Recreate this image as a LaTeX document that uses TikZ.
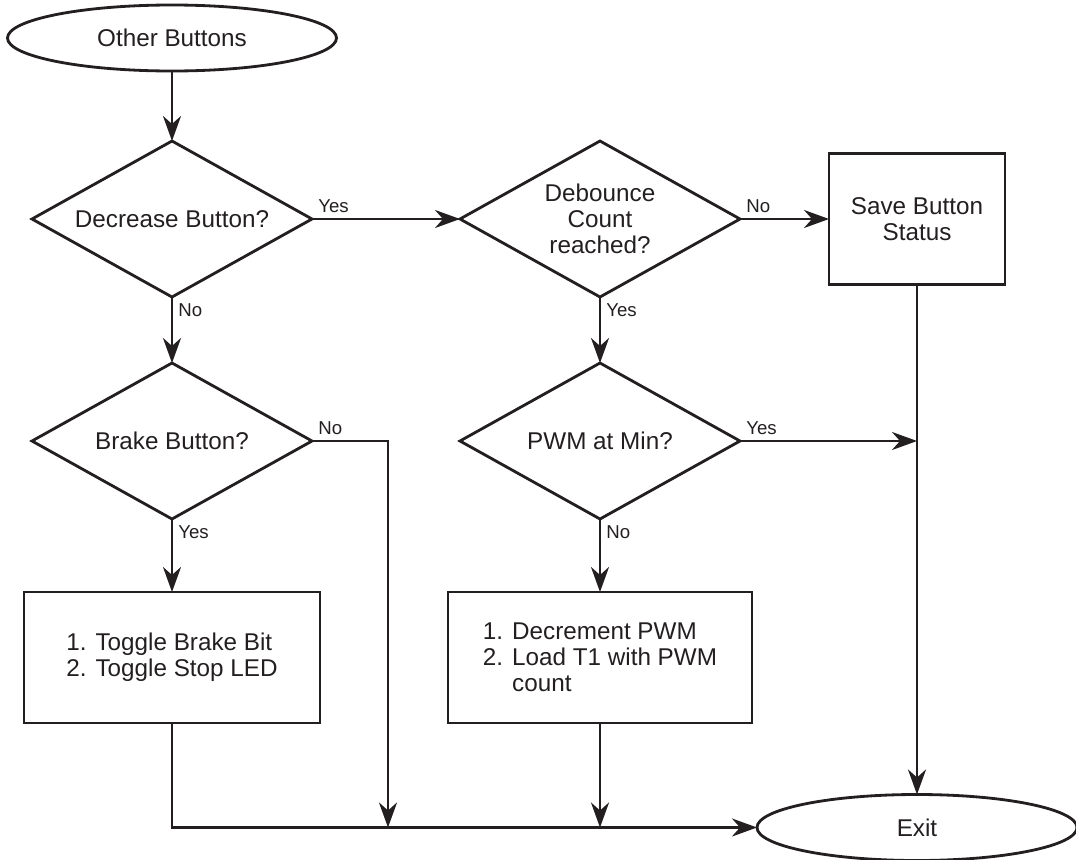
\documentclass[tikz,border=0pt]{standalone}
\usepackage{fontspec}
\setmainfont{Liberation Sans}
\usetikzlibrary{shapes.geometric,arrows.meta,positioning}
\definecolor{ink}{HTML}{231F20}

\begin{document}
\begin{tikzpicture}[
  line width=1.6pt, draw=ink, text=ink,
  txt/.style={font=\fontsize{13.8}{14.8}\selectfont},
  term/.style={draw, ellipse, txt, minimum width=6.58cm, minimum height=1.32cm,
               inner sep=0pt, outer sep=0pt},
  decision/.style={draw, diamond, txt, aspect=1.8, minimum width=5.6cm, minimum height=3.12cm,
                   inner sep=0pt, outer sep=0pt, align=center},
  box/.style={draw, txt, minimum height=2.62cm, inner sep=0pt, outer sep=0pt},
  lbl/.style={font=\fontsize{10.6}{12}\selectfont, inner sep=0.1cm},
  arr/.style={-{Stealth[length=5mm, width=3.6mm, inset=1.6mm]}}
]
\useasboundingbox (0,0) rectangle (21.52,-17.2);

\node[term] (start) at (3.44,-0.76) {Other Buttons};
\node[decision, below=1.4cm of start] (decbtn) {Decrease Button?};
\node[decision, below=1.32cm of decbtn] (brake) {Brake Button?};
\node[box, below=1.46cm of brake, minimum width=5.92cm, align=left] (toggle)
  {1. Toggle Brake Bit\\2. Toggle Stop LED};
\node[decision, right=2.96cm of decbtn] (debounce) {Debounce\\Count\\reached?};
\node[decision, below=1.32cm of debounce] (pwmmin) {PWM at Min?};
\node[box, below=1.46cm of pwmmin, minimum width=6.08cm, align=left] (decpwm)
  {1. Decrement PWM\\2. Load T1 with PWM\\\phantom{2. }count};
\node[box, right=1.78cm of debounce, minimum width=3.52cm, align=center] (save)
  {Save Button\\Status};
\node[term, below=10.2cm of save, minimum width=6.4cm] (exit) {Exit};
\coordinate[right=1.52cm of brake.east] (brk);

\draw[arr] (start) -- (decbtn);
\draw[arr] (decbtn.east) node[lbl, above right] {Yes} -- (debounce.west);
\draw[arr] (decbtn.south) node[lbl, below right] {No} -- (brake.north);
\draw[arr] (debounce.east) node[lbl, above right] {No} -- (save.west);
\draw[arr] (debounce.south) node[lbl, below right] {Yes} -- (pwmmin.north);
\draw[arr] (brake.south) node[lbl, below right] {Yes} -- (toggle.north);
\draw[arr] (brake.east) node[lbl, above right] {No} -- (brk) -- (brk |- exit.west);
\draw[arr] (pwmmin.south) node[lbl, below right] {No} -- (decpwm.north);
\draw[arr] (pwmmin.east) node[lbl, above right] {Yes} -- (pwmmin.east -| save.south);
\draw[arr] (save.south) -- (save.south |- exit.north);
\draw[arr] (decpwm.south) -- (decpwm.south |- exit.west);
\draw[arr] (toggle.south) |- (exit.west);
\end{tikzpicture}
\end{document}
